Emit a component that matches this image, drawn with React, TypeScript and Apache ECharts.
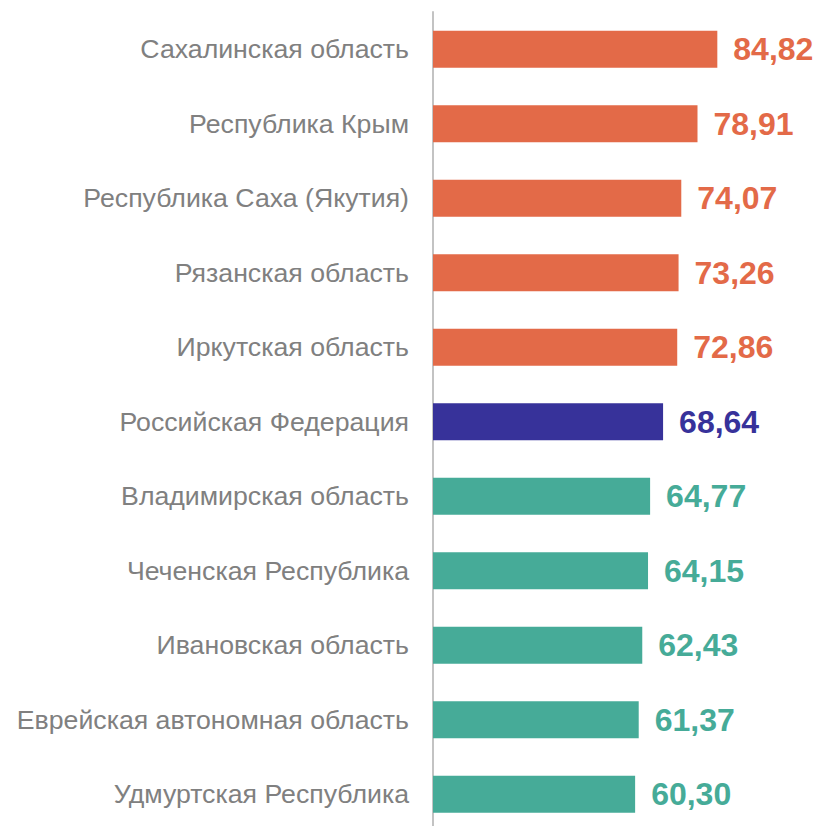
import React, { useEffect, useRef } from "react";
import * as echarts from "echarts";

const categories = [
  "Сахалинская область",
  "Республика Крым",
  "Республика Саха (Якутия)",
  "Рязанская область",
  "Иркутская область",
  "Российская Федерация",
  "Владимирская область",
  "Чеченская Республика",
  "Ивановская область",
  "Еврейская автономная область",
  "Удмуртская Республика",
];
const values = [84.82, 78.91, 74.07, 73.26, 72.86, 68.64, 64.77, 64.15, 62.43, 61.37, 60.3];
const groups = ["high", "high", "high", "high", "high", "rf", "low", "low", "low", "low", "low"];
const groupColors: Record<string, string> = { high: "#E36A48", rf: "#37329A", low: "#46AB98" };

export default function App() {
  const ref = useRef<HTMLDivElement>(null);
  useEffect(() => {
    document.body.style.margin = "0";
    const chart = echarts.init(ref.current!, undefined, { renderer: "svg" });
    chart.setOption({
      animation: false,
      grid: {
        left: 433,
        top: 12,
        width: 335.2,
        height: 819.5,
        containLabel: false,
        outerBoundsMode: "none",
      },
      xAxis: { type: "value", min: 0, max: 100, show: false },
      yAxis: {
        type: "category",
        inverse: true,
        data: categories,
        axisTick: { show: false },
        axisLine: { lineStyle: { color: "#c3c3c3", width: 2 } },
        axisLabel: {
          margin: 24,
          color: "#808080",
          fontSize: 26.7,
          fontFamily: "Liberation Sans, Arial, sans-serif",
        },
      },
      series: [
        {
          type: "bar",
          barWidth: 37,
          data: values.map((v, i) => ({
            value: v,
            itemStyle: { color: groupColors[groups[i]] },
            label: { color: groupColors[groups[i]] },
          })),
          label: {
            show: true,
            position: "right",
            distance: 16,
            fontSize: 32,
            fontWeight: "bold",
            fontFamily: "Liberation Sans, Arial, sans-serif",
            formatter: (p: any) => p.value.toFixed(2).replace(".", ","),
          },
        },
      ],
    });
    return () => chart.dispose();
  }, []);
  return <div ref={ref} style={{ width: 820, height: 826 }} />;
}
